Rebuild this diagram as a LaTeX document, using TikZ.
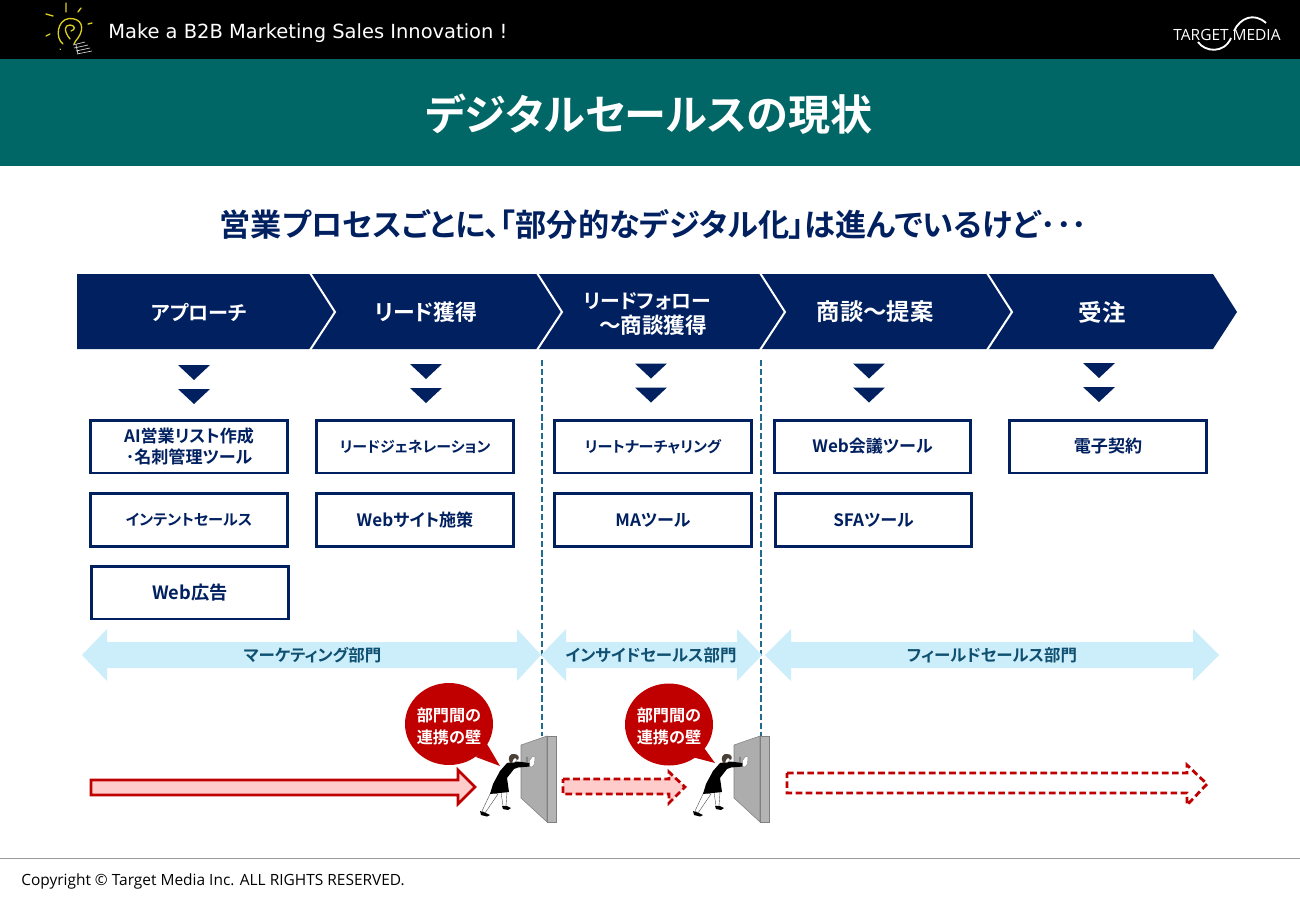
\documentclass[tikz,border=0pt]{standalone}
\usepackage{fontspec}
\setmainfont{Noto Sans CJK JP}[BoldFont={Noto Sans CJK JP Bold}]
\newfontfamily\jpb{Noto Sans CJK JP Bold}[RawFeature={+palt}]
\newfontfamily\latinf{DejaVu Sans}
\newfontfamily\copyf{Open Sans}
\newfontfamily\logof{Open Sans}
\newcommand{\fsz}[1]{\jpb\fontsize{#1}{16.5}\selectfont}
\definecolor{navy}{HTML}{002060}
\definecolor{tealbar}{HTML}{006666}
\definecolor{dashblue}{HTML}{1F6C8E}
\definecolor{lightb}{HTML}{CCEEFB}
\definecolor{deptext}{HTML}{0F4F70}
\definecolor{wallc}{HTML}{ADADAD}
\definecolor{redc}{HTML}{C00000}
\definecolor{pinkc}{HTML}{FFCCCC}
\definecolor{bulb}{HTML}{D8D020}
\definecolor{hairc}{HTML}{4A4238}
\tikzset{
 stagetxt/.style={text=white,align=center},
 tri/.style={fill=navy,draw=none},
 toolbox/.style={draw=navy,line width=2.2pt,fill=white,minimum width=147.4pt,minimum height=39.7pt,inner sep=0pt,align=center,font=\fsz{12.8},text=navy},
 deptxt/.style={font=\fsz{12.35},text=deptext},
 dep/.style={fill=lightb,draw=none},
 sep/.style={draw=dashblue,line width=1.5pt,dash pattern=on 4.6pt off 2.2pt},
 bubble/.style={fill=redc,draw=none},
 bubbletxt/.style={font=\fsz{12.1},text=white,align=center},
 sol/.style={draw=redc,line width=1.9pt,fill=pinkc,miter limit=10},
 das/.style={draw=redc,line width=2.1pt,dash pattern=on 5pt off 2.6pt},
}
\newcommand{\downtri}[2]{%
 \fill[tri] (#1-16,#2) -- (#1+16,#2) -- (#1,#2+15) -- cycle;
 \fill[tri] (#1-16,#2+24) -- (#1+16,#2+24) -- (#1,#2+39) -- cycle;}
\newcommand{\wallperson}[2]{%
 \begin{scope}[shift={(#1,#2)}]
 \fill[wallc,draw=gray,line width=.4pt] (521,745) -- (547,736) -- (547,822) -- (521,798) -- cycle;
 \fill[wallc!92!white,draw=gray,line width=.4pt] (547,736) -- (556,736) -- (556,822) -- (547,822) -- cycle;
 \draw[gray,line width=.5pt,fill=wallc!85!black] (527,759.5) ellipse (.9 and 2.4);
 % legs
 \fill[white,draw=black!70,line width=.3pt] (491,792) -- (482,811) -- (485,813) -- (498,794) -- cycle;
 \fill[white,draw=black!70,line width=.3pt] (501,792) -- (503,806) -- (506,806) -- (507,792) -- cycle;
 % feet
 \fill[black] (480,811) -- (486,813) -- (490,815) -- (487,816.5) -- (481,815) -- cycle;
 \fill[black] (502,806) -- (507,806) -- (511,808) -- (508,810) -- (503,809) -- cycle;
 % dress
 \fill[black] (507,763) -- (517,761.5) -- (530,763) -- (530,766.5) -- (518,767.5) -- (514,769) -- (507,778) -- (509,792) -- (490,794) -- (493,784) -- (500,771) -- cycle;
 % hair and face
 \fill[white,draw=gray,line width=.3pt] (513,759) circle (3.8);
 \fill[hairc] (510,763) .. controls (507,758) and (510,753) .. (514,754) .. controls (518,754) and (520,757) .. (518,760) .. controls (515,757) and (514,758) .. (513,760) -- (512,763) -- cycle;
 \fill[white,draw=gray,line width=.3pt] (529.5,760.5) -- (532.5,756.5) -- (535,757) -- (534.5,764) -- (532,767) -- (529.5,766.5) -- cycle;
 \end{scope}}
\begin{document}
\begin{tikzpicture}[x=.75pt,y=-.75pt]
\useasboundingbox (0,0) rectangle (1300,900);
\fill[white] (0,0) rectangle (1300,900);
\fill[black] (0,0) rectangle (1300,59);
\fill[tealbar] (0,59) rectangle (1300,166);
% bulb logo
\begin{scope}[draw=bulb,line width=1pt,line cap=round]
\draw (63,44) .. controls (55,38) and (57,20) .. (69,18.5) .. controls (82,18) and (85,28) .. (78,38) .. controls (76,40) and (75,42) .. (74,44);
\draw (70,39) .. controls (63,30) and (65,25) .. (70,25) .. controls (75,25) and (76,30) .. (71,31);
\draw (66,3) -- (66,12) (78,12) -- (81,8) (46,14) -- (53,16) (46,36) -- (50,34) (88,24) -- (92,23) (60,49) -- (60.5,49.5);
\end{scope}
\draw[white!85!black,line width=.5pt] (73,45) -- (85,42) (74,48) -- (88,45) (76,51) -- (90,48) (77,54) -- (92,51) (76,45) -- (78,54);
\node[anchor=base west,inner sep=0pt,text=white,font=\latinf\fontsize{14.6}{18}\selectfont] (tag) at (108,38.5) {Make a B2B Marketing Sales Innovation !};
% target media logo
\node[inner sep=0pt,text=white,font=\logof\fontsize{11.6}{14}\selectfont] (tmlogo) at (1227,34.5) {TARGET\hspace{3pt}MEDIA};
\draw[white,line width=1.4pt] (1234,31) .. controls (1240,18) and (1254,12) .. (1266,23);
\draw[white,line width=1.4pt] (1198,42) .. controls (1205,52) and (1224,54) .. (1231,38);
% titles
\node[text=white,font=\fsz{31.6},inner sep=0pt] (title) at (649,114) {デジタルセールスの現状};
\node[text=navy,font=\fsz{23.4},inner sep=0pt] (subtitle) at (653.5,224) {営業プロセスごとに、「部分的なデジタル化」は進んでいるけど･･･};
% stages
\fill[navy] (77,274) -- (1213,274) -- (1237,312) -- (1213,349) -- (77,349) -- cycle;
\draw[white,line width=1.5pt] (310,273) -- (335,312) -- (310,350);
\draw[white,line width=1.5pt] (537,273) -- (562,312) -- (537,350);
\draw[white,line width=1.5pt] (760,273) -- (785,312) -- (760,350);
\draw[white,line width=1.5pt] (987,273) -- (1012,312) -- (987,350);
\node[stagetxt,font=\fsz{15.1}] (s1) at (199,312) {アプローチ};
\node[stagetxt,font=\fsz{16.4}] (s2) at (426,312) {リード獲得};
\node[stagetxt] (s3) at (647,312.5) {\fsz{14.9}\rule{0pt}{14pt}リードフォロー\\[3pt]\fsz{16.2}\hspace*{9pt}～商談獲得};
\node[stagetxt,font=\fsz{17.5}] (s4) at (875,312) {商談～提案};
\node[stagetxt,font=\fsz{17.6}] (s5) at (1102,312) {受注};
\downtri{194}{365}
\downtri{426}{364}
\downtri{651}{363.5}
\downtri{869}{363.5}
\downtri{1099}{363}
% separators
\coordinate (d1a) at (542,360); \coordinate (d1b) at (542,736);
\coordinate (d2a) at (761,360); \coordinate (d2b) at (761,738);
\draw[sep] (d1a) -- (d1b);
\draw[sep] (d2a) -- (d2b);
% tools
\node[toolbox] (t1) at (189,446.5) {\raisebox{-1pt}{\shortstack{AI営業リスト作成\\[1pt]･名刺管理ツール}}};
\node[toolbox,font=\fsz{11.4}] (t2) at (189,520) {\raisebox{-.7pt}{インテントセールス}};
\node[toolbox,font=\fsz{13.7}] (t3) at (190,592.5) {\raisebox{-.7pt}{Web広告}};
\node[toolbox,font=\fsz{11.2}] (t4) at (415,446.5) {\raisebox{-.7pt}{リードジェネレーション}};
\node[toolbox] (t5) at (415,520) {\raisebox{-.7pt}{Webサイト施策}};
\node[toolbox,font=\fsz{11.3}] (t6) at (653,446.5) {\raisebox{-.7pt}{リートナーチャリング}};
\node[toolbox] (t7) at (653,520) {\raisebox{-.7pt}{MAツール}};
\node[toolbox] (t8) at (872.5,446.5) {\raisebox{-.7pt}{Web会議ツール}};
\node[toolbox] (t9) at (873.5,520) {\raisebox{-.7pt}{SFAツール}};
\node[toolbox] (t10) at (1108,446.5) {\raisebox{-.7pt}{電子契約}};
% departments
\fill[dep] (82,655) -- (107,629) -- (107,642) -- (517,642) -- (517,629) -- (541,655) -- (517,681) -- (517,668) -- (107,668) -- (107,681) -- cycle;
\fill[dep] (541,655) -- (566,629) -- (566,642) -- (737,642) -- (737,629) -- (762,655) -- (737,681) -- (737,668) -- (566,668) -- (566,681) -- cycle;
\fill[dep] (765,655) -- (791,629) -- (791,642) -- (1193,642) -- (1193,629) -- (1219,655) -- (1193,681) -- (1193,668) -- (791,668) -- (791,681) -- cycle;
\node[deptxt] (m1) at (312.5,655.5) {マーケティング部門};
\node[deptxt] (m2) at (651,655.5) {インサイドセールス部門};
\node[deptxt] (m3) at (992,655.5) {フィールドセールス部門};
% walls
\wallperson{0}{0}
\wallperson{213}{0}
% bubbles
\fill[bubble] (449,724) ellipse (44 and 41);
\fill[bubble] (487,744) -- (500,766) -- (476,757) -- cycle;
\node[bubbletxt] (b1) at (449,726) {部門間の\\連携の壁};
\fill[bubble] (669,724.5) ellipse (44 and 41);
\fill[bubble] (702,745) -- (715,763) -- (692,757) -- cycle;
\node[bubbletxt] (b2) at (669,726) {部門間の\\連携の壁};
% red arrows
\draw[sol] (91,780) -- (458,780) -- (458,770) -- (475,787) -- (458,804) -- (458,795) -- (91,795) -- cycle;
\fill[pinkc] (563,779) -- (669,779) -- (669,772) -- (685,787) -- (669,803) -- (669,794) -- (563,794) -- cycle;
\draw[das] (563,779) -- (669,779) -- (669,772) -- (685,787) -- (669,803) -- (669,794) -- (563,794) -- cycle;
\draw[das] (787,773) -- (1187,773) -- (1187,765) -- (1207,784) -- (1187,805) -- (1187,793) -- (787,793) -- cycle;
% footer
\draw[gray!80,line width=.7pt] (0,858) -- (1300,858);
\node[anchor=base west,inner sep=0pt,text=black,font=\copyf\fontsize{11.6}{14}\selectfont] (copy) at (21,885) {Copyright © Target Media Inc. ALL RIGHTS RESERVED.};
\end{tikzpicture}
\end{document}
